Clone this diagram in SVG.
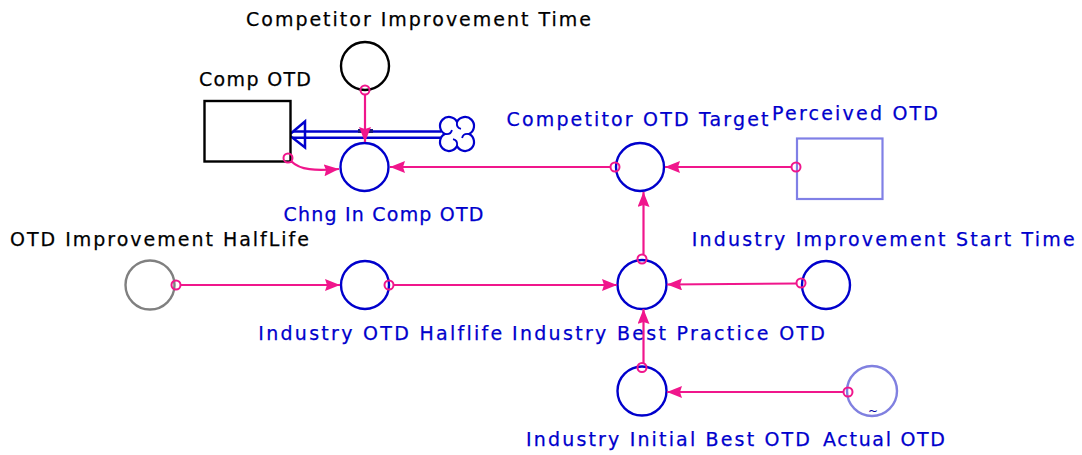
<svg xmlns="http://www.w3.org/2000/svg" width="1082" height="455" viewBox="0 0 1082 455">
<style>
text{font-family:"DejaVu Sans","Verdana",sans-serif;font-size:19px;stroke-width:0.25;font-variant-ligatures:none}
.k{fill:#000;stroke:#000}
.b{fill:#0000cc;stroke:#0000cc}
.node{fill:#fff;stroke-width:2.4}
.blue{stroke:#0000cc}
.link{fill:none;stroke:#f0168c;stroke-width:2.2}
.tail{fill:none;stroke:#f0168c;stroke-width:2}
.pipe{stroke:#0000cc;stroke-width:2.5;fill:none}
</style>
<defs>
<marker id="ah" markerUnits="userSpaceOnUse" markerWidth="16" markerHeight="13" refX="15" refY="6" orient="auto">
<path d="M0,0 L15,6 L0,12 L2,6 z" fill="#f0168c"/>
</marker>
</defs>

<g id="flow">
<line class="pipe" x1="293" y1="131.5" x2="441" y2="131.5"/>
<line class="pipe" x1="293" y1="137.8" x2="441" y2="137.8"/>
<path class="pipe" d="M289,135 L305,121.5 L305,147.5 Z"/>
<rect x="358" y="129" width="15" height="4" fill="#1a1a80"/>
</g>

<g id="cloud">
<path d="M444.9,134 A9,9 0 1 1 457,121.9 A9,9 0 1 1 469.1,134 A9,9 0 1 1 457,146.1 A9,9 0 1 1 444.9,134 Z" fill="#fff" stroke="#0000cc" stroke-width="2.2"/>
<path d="M457,121.9 q-1,6 4,7 M469.1,134 q-6,-1 -7,4 M457,146.1 q1,-6 -4,-7 M444.9,134 q6,1 7,-4" fill="none" stroke="#0000cc" stroke-width="1.8"/>
</g>

<g id="competitor-improvement-time">
<circle class="node" cx="365" cy="66" r="24" stroke="#000"/>
<text class="k" x="246" y="26" textLength="345" lengthAdjust="spacing">Competitor Improvement Time</text>
</g>

<g id="comp-otd">
<rect x="204.5" y="101" width="86" height="60.5" fill="#fff" stroke="#000" stroke-width="2.4"/>
<text class="k" x="199" y="86" textLength="112" lengthAdjust="spacing">Comp OTD</text>
</g>

<g id="chng-in-comp-otd">
<circle class="node blue" cx="364.5" cy="167" r="24"/>
<text class="b" x="283.5" y="221" textLength="200" lengthAdjust="spacing">Chng In Comp OTD</text>
</g>

<g id="competitor-otd-target">
<circle class="node blue" cx="640" cy="167" r="24"/>
<text class="b" x="506.5" y="125.7" textLength="262" lengthAdjust="spacing">Competitor OTD Target</text>
</g>

<g id="perceived-otd">
<rect x="797" y="138.5" width="85.5" height="60.5" fill="#fff" stroke="#8080e6" stroke-width="2.2"/>
<text class="b" x="772" y="120" textLength="166" lengthAdjust="spacing">Perceived OTD</text>
</g>

<g id="otd-improvement-halflife">
<circle class="node" cx="150" cy="285" r="24.5" stroke="#808080"/>
<text class="k" x="10" y="245.7" textLength="299" lengthAdjust="spacing">OTD Improvement HalfLife</text>
</g>

<g id="industry-otd-halflife">
<circle class="node blue" cx="365" cy="285" r="24"/>
<text class="b" x="258.3" y="340" textLength="244" lengthAdjust="spacing">Industry OTD Halflife</text>
</g>

<g id="industry-best-practice-otd">
<circle class="node blue" cx="642" cy="284.5" r="24.5"/>
<text class="b" x="512" y="339.5" textLength="313" lengthAdjust="spacing">Industry Best Practice OTD</text>
</g>

<g id="industry-improvement-start-time">
<circle class="node blue" cx="826" cy="285" r="24"/>
<text class="b" x="691.7" y="246.3" textLength="383" lengthAdjust="spacing">Industry Improvement Start Time</text>
</g>

<g id="industry-initial-best-otd">
<circle class="node blue" cx="642" cy="391" r="24.5"/>
<text class="b" x="526" y="446" textLength="284" lengthAdjust="spacing">Industry Initial Best OTD</text>
</g>

<g id="actual-otd">
<circle class="node" cx="872" cy="391" r="25" stroke="#8080e0"/>
<text x="873" y="415" text-anchor="middle" style="font-size:12px;fill:#0000a0;stroke:none">~</text>
<text class="b" x="823" y="446" textLength="122" lengthAdjust="spacing">Actual OTD</text>
</g>

<g id="connectors">
<path class="link" d="M365,94.5 L365,142" marker-end="url(#ah)"/>
<circle class="tail" cx="365" cy="90" r="4.5"/>
<path class="link" d="M291.5,161.5 C300,170 315,171 339,169" marker-end="url(#ah)"/>
<circle class="tail" cx="288" cy="158" r="4.5"/>
<path class="link" d="M610.5,167 L390,167" marker-end="url(#ah)"/>
<circle class="tail" cx="615" cy="167" r="4.5"/>
<path class="link" d="M791.5,167 L665,167" marker-end="url(#ah)"/>
<circle class="tail" cx="796" cy="167" r="4.5"/>
<path class="link" d="M180.5,285 L340,285" marker-end="url(#ah)"/>
<circle class="tail" cx="176" cy="285" r="4.5"/>
<path class="link" d="M393.5,285 L617,285" marker-end="url(#ah)"/>
<circle class="tail" cx="389" cy="285" r="4.5"/>
<path class="link" d="M796.5,283.5 L667,284.5" marker-end="url(#ah)"/>
<circle class="tail" cx="801" cy="283" r="4.5"/>
<path class="link" d="M643.5,254.5 L643.5,192" marker-end="url(#ah)"/>
<circle class="tail" cx="642" cy="259" r="4.5"/>
<path class="link" d="M643.5,363 L643.5,309" marker-end="url(#ah)"/>
<circle class="tail" cx="642" cy="367.5" r="4.5"/>
<path class="link" d="M843.5,392 L667,392" marker-end="url(#ah)"/>
<circle class="tail" cx="848" cy="392" r="4.5"/>
</g>
</svg>
